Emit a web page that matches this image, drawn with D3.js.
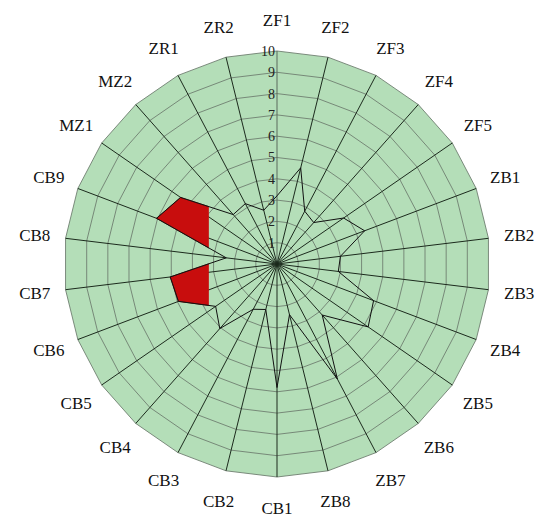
<!DOCTYPE html>
<html>
<head>
<meta charset="utf-8">
<script src="https://cdn.jsdelivr.net/npm/d3@7"></script>
<style>
	body { margin: 0; background: #fff; }
	svg text { font-family: "Liberation Serif", "DejaVu Serif", serif; }
</style>
</head>
<body>
<div id="main_node"></div>
<script>
var axes = ["ZF1", "ZF2", "ZF3", "ZF4", "ZF5", "ZB1", "ZB2", "ZB3", "ZB4", "ZB5", "ZB6", "ZB7", "ZB8",
	"CB1", "CB2", "CB3", "CB4", "CB5", "CB6", "CB7", "CB8", "CB9", "MZ1", "MZ2", "ZR1", "ZR2"];
var values = [3.2, 4.65, 2.8, 2.6, 3.8, 4.4, 3.0, 2.9, 4.85, 5.2, 3.2, 6.1, 2.45,
	5.8, 2.2, 2.4, 4.05, 3.5, 4.95, 5.05, 2.4, 6.05, 5.5, 3.1, 3.2, 2.6];
var ticks = [1, 2, 3, 4, 5, 6, 7, 8, 9, 10];
// part of the polygon further left than this value gets the red fill
var highlightFrom = 3.2;

var width = 550,
	height = 527,
	cx = 277,
	cy = 264,
	radius = 213;

var svg = d3.select("#main_node")
	.append("svg")
	.attr("width", width)
	.attr("height", height);

var r = d3.scaleLinear().domain([0, 10]).range([0, radius]);
var angle = d3.scaleLinear().domain([0, axes.length]).range([0, 2 * Math.PI]);

var g = svg.append("g").attr("transform", "translate(" + cx + "," + cy + ")");

function ring(level) {
	return d3.lineRadial()
		.angle(function (d, i) { return angle(i); })
		.radius(r(level))
		.curve(d3.curveLinearClosed)(axes);
}

// green background
g.append("path")
	.attr("d", ring(10))
	.attr("fill", "#b4deb8");

// level rings
g.selectAll(".ring")
	.data(ticks)
	.enter()
	.append("path")
	.attr("class", "ring")
	.attr("d", function (d) { return ring(d); })
	.attr("fill", "none")
	.attr("stroke", "#6f7f70")
	.attr("stroke-width", 0.9);

// spokes
g.selectAll(".spoke")
	.data(axes)
	.enter()
	.append("line")
	.attr("class", "spoke")
	.attr("x1", 0)
	.attr("y1", 0)
	.attr("x2", function (d, i) { return r(10) * Math.sin(angle(i)); })
	.attr("y2", function (d, i) { return -r(10) * Math.cos(angle(i)); })
	.attr("stroke", function (d, i) { return i === 0 ? "#5b6b5c" : "#1c2a1d"; })
	.attr("stroke-width", 1);

var dataLine = d3.lineRadial()
	.angle(function (d, i) { return angle(i); })
	.radius(function (d) { return r(d); })
	.curve(d3.curveLinearClosed);

// red highlighted part
svg.append("clipPath")
	.attr("id", "leftClip")
	.append("rect")
	.attr("x", -r(10) - 10)
	.attr("y", -r(10) - 10)
	.attr("width", r(10) + 10 - r(highlightFrom))
	.attr("height", 2 * r(10) + 20);

g.append("path")
	.attr("d", dataLine(values))
	.attr("fill", "#c80d0d")
	.attr("stroke", "#7a0808")
	.attr("stroke-width", 0.8)
	.attr("clip-path", "url(#leftClip)");

// data line
g.append("path")
	.attr("d", dataLine(values))
	.attr("fill", "none")
	.attr("stroke", "#111")
	.attr("stroke-width", 1);

// tick labels along the first axis
g.selectAll(".tick")
	.data(ticks)
	.enter()
	.append("text")
	.attr("class", "tick")
	.attr("x", -2)
	.attr("y", function (d) { return -r(d); })
	.attr("dy", "0.35em")
	.attr("text-anchor", "end")
	.style("font-family", "'Liberation Serif', 'DejaVu Serif', serif")
	.style("font-size", "14px")
	.style("fill", "#222")
	.text(function (d) { return d; });

// axis names
var labelR = radius + 31;
g.selectAll(".axisLabel")
	.data(axes)
	.enter()
	.append("text")
	.attr("class", "axisLabel")
	.attr("x", function (d, i) { return labelR * Math.sin(angle(i)); })
	.attr("y", function (d, i) { return -labelR * Math.cos(angle(i)); })
	.attr("dy", "0.35em")
	.attr("text-anchor", "middle")
	.style("font-family", "'Liberation Serif', 'DejaVu Serif', serif")
	.style("font-size", "17px")
	.style("fill", "#111")
	.text(function (d) { return d; });
</script>
</body>
</html>
